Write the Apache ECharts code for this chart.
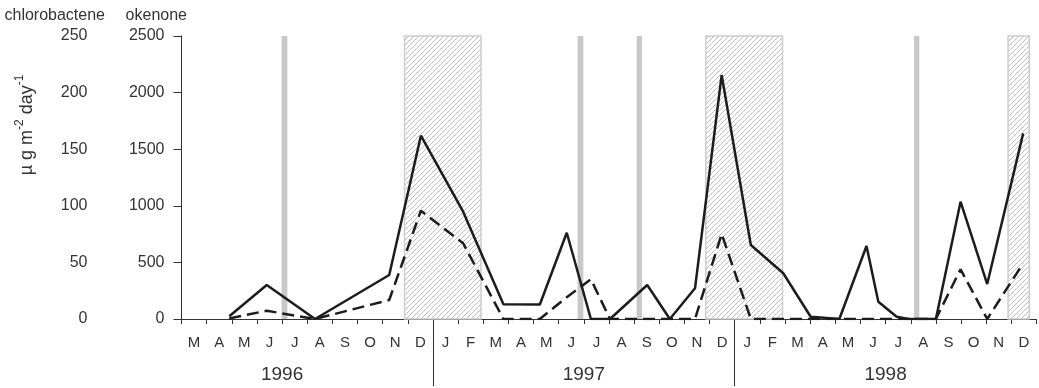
<!DOCTYPE html>
<html><head><meta charset="utf-8">
<script src="https://cdn.jsdelivr.net/npm/echarts@6/dist/echarts.min.js"></script>
<style>html,body{margin:0;padding:0;background:#fff}#c{width:1039px;height:388px}</style>
</head><body><div id="c"></div>
<script>
// Month labels (March 1996 .. December 1998), one per month interval
const monthLabels = ['M','A','M','J','J','A','S','O','N','D',
  'J','F','M','A','M','J','J','A','S','O','N','D',
  'J','F','M','A','M','J','J','A','S','O','N','D'];
const yearLabels = ['1996','1997','1998'];
const yearLabelPos = [4, 16, 28];          // months from 1 March 1996
const yearBoundaries = [10, 22];           // 1 Jan 1997, 1 Jan 1998
// sampling dates (months from 1 March 1996)
const sampleMonth = [1.90,3.39,5.31,8.26,9.52,11.2,12.80,14.25,15.32,16.28,17.04,18.52,19.42,20.42,21.48,22.64,23.93,25.02,26.16,27.24,27.71,28.44,28.90,30.0,30.98,32.04,33.47];
const okenone = [25,300,0,389,1619,948,130,128,762,0,0,300,0,271,2155,654,404,20,0,645,153,20,0,0,1036,309,1640];
const chlorobactene = [0.5,7.3,0,16.8,95.7,66.9,0,0,19.2,35.1,0,0,0,0,75.1,0,0,0,0,0,0,0,0,0,43.9,0,49.2];
const mixingBars = [[3.98,4.21],[15.75,15.98],[18.10,18.31],[29.13,29.34]];
const hatchedPeriods = [[8.87,11.91],[20.85,23.90],[32.87,33.71]];

const FONT = '"Liberation Sans", Arial, Helvetica, sans-serif';
const TXT = '#333';

// diagonal hatch pattern
const pc = document.createElement('canvas'); pc.width = 5; pc.height = 5;
const g = pc.getContext('2d');
g.strokeStyle = '#bfbfbf'; g.lineWidth = 1;
g.beginPath();
g.moveTo(0,5); g.lineTo(5,0);
g.moveTo(-1,1); g.lineTo(1,-1);
g.moveTo(4,6); g.lineTo(6,4);
g.stroke();

const chart = echarts.init(document.getElementById('c'), null, {renderer:'canvas'});
const monthTickVals = []; for (let i = 0; i <= monthLabels.length; i++) monthTickVals.push(i);
const monthLabelVals = monthLabels.map((_, i) => i + 0.5);

const option = {
  animation: false,
  textStyle: {fontFamily: FONT},
  grid: {left: 181.5, right: 2.5, top: 36, bottom: 69},
  xAxis: [
    {type:'value', min:0, max:monthLabels.length, position:'bottom',
      splitLine:{show:false},
      axisLine:{show:true, lineStyle:{color:TXT, width:1}},
      axisTick:{show:true, customValues: monthTickVals, length:5, lineStyle:{color:TXT}},
      axisLabel:{customValues: monthLabelVals, formatter: v => monthLabels[Math.floor(v)],
        margin:16, fontSize:15, color:TXT, fontFamily:FONT, hideOverlap:false}},
    {type:'value', min:0, max:monthLabels.length, position:'bottom',
      splitLine:{show:false}, axisLine:{show:false},
      axisTick:{show:true, customValues: yearBoundaries, length:67, lineStyle:{color:TXT}},
      axisLabel:{customValues: yearLabelPos, formatter: v => yearLabels[yearLabelPos.indexOf(v)],
        margin:46, fontSize:19, color:TXT, fontFamily:FONT, hideOverlap:false}}
  ],
  yAxis: [
    {type:'value', min:0, max:250, interval:50, position:'left', offset:80,
      splitLine:{show:false},
      axisLine:{show:true, lineStyle:{color:TXT}},
      axisTick:{show:true, length:6, lineStyle:{color:TXT}},
      axisLabel:{margin:14, fontSize:16, color:TXT, fontFamily:FONT, formatter: v => String(v)}},
    {type:'value', min:0, max:2500, interval:500, position:'left', offset:0,
      splitLine:{show:false},
      axisLine:{show:true, lineStyle:{color:TXT}},
      axisTick:{show:true, length:8, lineStyle:{color:TXT}},
      axisLabel:{margin:17, fontSize:16, color:TXT, fontFamily:FONT, formatter: v => String(v)}}
  ],
  graphic: [
    {type:'text', x:105, y:16, style:{text:'chlorobactene', align:'right', verticalAlign:'middle',
      fontSize:16, fontFamily:FONT, fill:TXT}},
    {type:'text', x:187, y:16, style:{text:'okenone', align:'right', verticalAlign:'middle',
      fontSize:16, fontFamily:FONT, fill:TXT}},
    {type:'text', x:25, y:125, rotation:Math.PI/2,
    style:{
      text:'{a|µ g m}{b|-2}{a| day}{b|-1}',
      align:'center', verticalAlign:'middle', fill:TXT,
      rich:{
        a:{fontSize:18, fontFamily:FONT, fill:TXT, lineHeight:22, verticalAlign:'bottom'},
        b:{fontSize:12, fontFamily:FONT, fill:TXT, lineHeight:11, verticalAlign:'top'}
      }
    }
  }],
  series: [
    {name:'okenone', type:'line', xAxisIndex:0, yAxisIndex:1, symbol:'none', z:3,
      data: sampleMonth.map((m, i) => [m, okenone[i]]),
      lineStyle:{color:'#1c1c1c', width:2.5},
      markArea:{silent:true, z:1, data: [
        ...mixingBars.map(b => [{xAxis:b[0], itemStyle:{color:'#c8c8c8', borderWidth:0}}, {xAxis:b[1]}]),
        ...hatchedPeriods.map(p => [{xAxis:p[0], itemStyle:{color:{image:pc, repeat:'repeat'}, borderColor:'#cccccc', borderWidth:1.5}}, {xAxis:p[1]}])
      ]}
    },
    {name:'chlorobactene', type:'line', xAxisIndex:0, yAxisIndex:0, symbol:'none', z:3,
      data: sampleMonth.map((m, i) => [m, chlorobactene[i]]),
      lineStyle:{color:'#1c1c1c', width:2.5, type:[12,6]}
    }
  ]
};
chart.setOption(option);
</script></body></html>
